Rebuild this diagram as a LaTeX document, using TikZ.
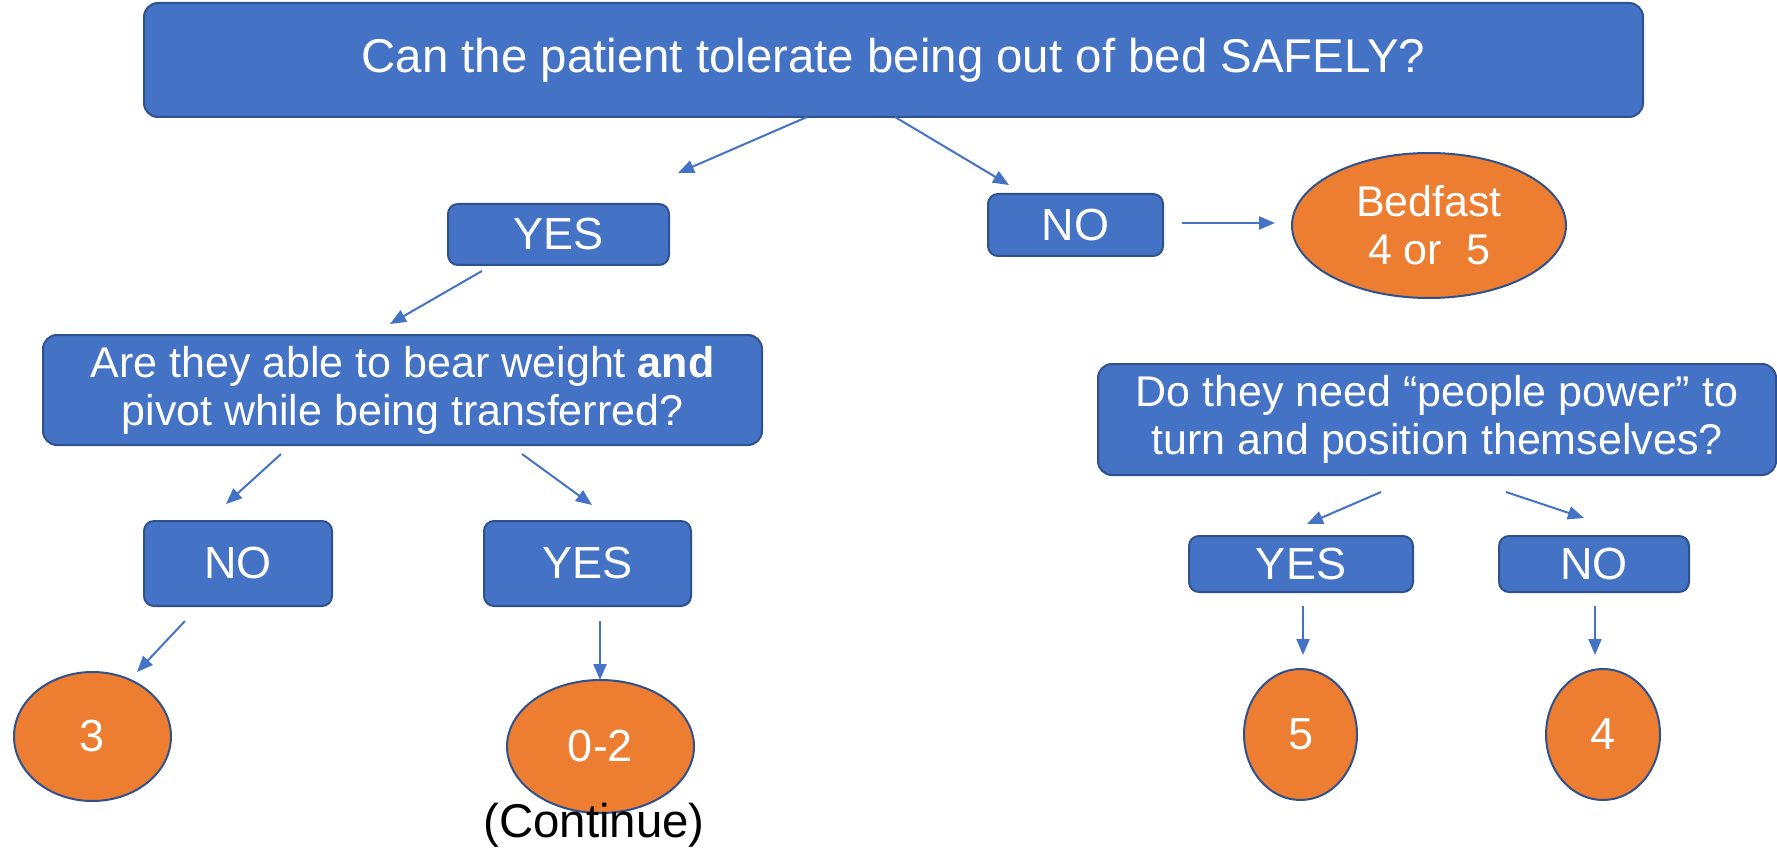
\documentclass[tikz,border=0pt]{standalone}
\usepackage{fontspec}
\setmainfont{Liberation Sans}
\usetikzlibrary{arrows.meta,shapes.geometric}
\definecolor{boxblue}{HTML}{4472C4}
\definecolor{edgeblue}{HTML}{2F528F}
\definecolor{orangefill}{HTML}{ED7D31}
\tikzset{
  qbox/.style={draw=edgeblue, line width=1pt, fill=boxblue, rounded corners=7pt, text=white, align=center, inner sep=0pt},
  obox/.style={draw=edgeblue, line width=1pt, fill=orangefill, ellipse, text=white, align=center, inner sep=0pt},
  conn/.style={draw=boxblue, line width=1pt, -{Triangle[length=8pt,width=6.5pt]}},
  bigtxt/.style={font=\fontsize{23.7}{26}\selectfont},
  midtxt/.style={font=\fontsize{21.5}{24}\selectfont},
  ynt/.style={font=\fontsize{22.5}{24}\selectfont},
}
\begin{document}
\begin{tikzpicture}[x=0.5pt,y=-0.5pt]
\useasboundingbox (0,0) rectangle (1777,850);
% nodes
\node[qbox, bigtxt, minimum width=749.5pt, minimum height=57pt] (top) at (893.5,60) {Can the patient tolerate being out of bed SAFELY?};
\node[qbox, ynt, minimum width=110.5pt, minimum height=30.5pt, rounded corners=5pt] (yes1) at (558.5,234.5) {YES};
\node[qbox, ynt, minimum width=87.5pt, minimum height=31pt, rounded corners=5pt] (no1) at (1075.5,225) {NO};
\node[obox, midtxt, minimum width=137pt, minimum height=72.5pt] (bedfast) at (1429,225.5) {Bedfast\\4 or\ \ 5};
\node[qbox, midtxt, minimum width=359.5pt, minimum height=55pt] (q2) at (402.5,390) {Are they able to bear weight \textbf{and}\\pivot while being transferred?};
\node[qbox, ynt, minimum width=94pt, minimum height=42.5pt, rounded corners=5pt] (no2) at (238,563.5) {NO};
\node[qbox, ynt, minimum width=103.5pt, minimum height=42.5pt, rounded corners=5pt] (yes2) at (587.5,563.5) {YES};
\node[obox, ynt, minimum width=78.5pt, minimum height=64.5pt] (three) at (92.5,736.5) {3};
\node[obox, ynt, minimum width=93.5pt, minimum height=66.5pt] (zerotwo) at (600.5,746.5) {0-2};
\node[bigtxt, text=black, inner sep=0pt] (cont) at (594,825) {(Continue)};
\node[qbox, midtxt, minimum width=339pt, minimum height=55.5pt] (q3) at (1437,419.5) {Do they need “people power” to\\turn and position themselves?};
\node[qbox, ynt, minimum width=112pt, minimum height=28pt, rounded corners=5pt] (yes3) at (1301,564) {YES};
\node[qbox, ynt, minimum width=95pt, minimum height=28pt, rounded corners=5pt] (no3) at (1594,564) {NO};
\node[obox, ynt, minimum width=56.5pt, minimum height=65.5pt] (five) at (1300.5,734.5) {5};
\node[obox, ynt, minimum width=57pt, minimum height=65.5pt] (four) at (1603,734.5) {4};
% connector end points
\coordinate (a1s) at (807,117); \coordinate (a1e) at (678,173);
\coordinate (a2s) at (895,117); \coordinate (a2e) at (1009,185);
\coordinate (a3s) at (1182,223); \coordinate (a3e) at (1275,223);
\coordinate (a4s) at (482,271); \coordinate (a4e) at (390,324);
\coordinate (a5s) at (281,454); \coordinate (a5e) at (226,504);
\coordinate (a6s) at (522,454); \coordinate (a6e) at (592,505);
\coordinate (a7s) at (185,621); \coordinate (a7e) at (137,672);
\coordinate (a8s) at (600,621); \coordinate (a8e) at (600,680);
\coordinate (a9s) at (1381,492); \coordinate (a9e) at (1307,524);
\coordinate (a10s) at (1506,492); \coordinate (a10e) at (1584,518);
\coordinate (a11s) at (1303,606); \coordinate (a11e) at (1303,655);
\coordinate (a12s) at (1595,606); \coordinate (a12e) at (1595,655);
% connectors
\draw[conn] (a1s) -- (a1e);
\draw[conn] (a2s) -- (a2e);
\draw[conn] (a3s) -- (a3e);
\draw[conn] (a4s) -- (a4e);
\draw[conn] (a5s) -- (a5e);
\draw[conn] (a6s) -- (a6e);
\draw[conn] (a7s) -- (a7e);
\draw[conn] (a8s) -- (a8e);
\draw[conn] (a9s) -- (a9e);
\draw[conn] (a10s) -- (a10e);
\draw[conn] (a11s) -- (a11e);
\draw[conn] (a12s) -- (a12e);
\end{tikzpicture}
\end{document}
